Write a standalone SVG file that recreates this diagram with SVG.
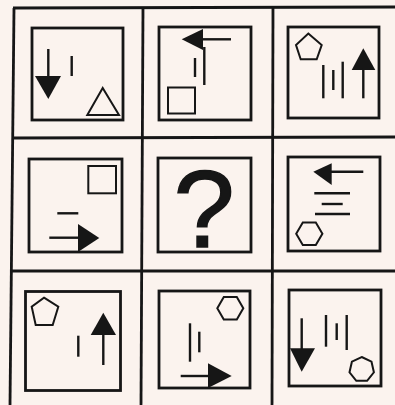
<svg xmlns="http://www.w3.org/2000/svg" width="395" height="405" viewBox="0 0 395 405">
<style>
.bg{fill:#fbf3ee}
.grid{stroke:#161616;stroke-width:2.8;fill:none}
.box{fill:none;stroke:#161616;stroke-width:2.8}
.ln{stroke:#161616;stroke-width:2.4;fill:none}
.ol{fill:none;stroke:#161616;stroke-width:2;stroke-linejoin:miter}
.hd{fill:#161616;stroke:none}
.q{font-family:"Liberation Sans",Arial,sans-serif;font-weight:normal;font-size:110px;fill:#161616;stroke:#161616;stroke-width:1.5}
</style>
<rect class="bg" x="0" y="0" width="395" height="405"/>
<g id="grid">
<line class="grid" x1="13" y1="8" x2="395" y2="7"/>
<line class="grid" x1="14" y1="8" x2="10" y2="405"/>
<line class="grid" x1="143" y1="8" x2="141" y2="405"/>
<line class="grid" x1="273" y1="7" x2="272" y2="405"/>
<line class="grid" x1="13" y1="138" x2="395" y2="137"/>
<line class="grid" x1="11" y1="271" x2="395" y2="271"/>
</g>
<g id="cell-1-1">
<rect class="box" x="32" y="28" width="91" height="92"/>
<line class="ln" x1="48.3" y1="49" x2="48.3" y2="78"/>
<polygon class="hd" points="35,76 61,76 48.3,99"/>
<line class="ln" x1="71.7" y1="56" x2="71.7" y2="76"/>
<polygon class="ol" points="102.7,88 87.3,115 119,115"/>
</g>
<g id="cell-1-2">
<rect class="box" x="159" y="27" width="92" height="93"/>
<polygon class="hd" points="181.7,39.3 203,29 203,50"/>
<line class="ln" x1="202" y1="39.3" x2="231" y2="39.3"/>
<line class="ln" x1="204.3" y1="47" x2="204.3" y2="85"/>
<line class="ln" x1="195" y1="58" x2="195" y2="77"/>
<rect class="ol" x="168" y="87.5" width="27" height="26"/>
</g>
<g id="cell-1-3">
<rect class="box" x="288" y="27" width="91" height="91"/>
<polygon class="ol" points="308.3,33.5 321.7,45 316.7,59.3 300.7,59.3 296,45"/>
<line class="ln" x1="323.3" y1="65" x2="323.3" y2="98.3"/>
<line class="ln" x1="333.3" y1="70" x2="333.3" y2="90"/>
<line class="ln" x1="342.7" y1="61.7" x2="342.7" y2="98.3"/>
<polygon class="hd" points="363.3,48.3 375.3,70 351.7,70"/>
<line class="ln" x1="363.3" y1="68" x2="363.3" y2="98.3"/>
</g>
<g id="cell-2-1">
<rect class="box" x="29" y="159" width="93" height="93"/>
<rect class="ol" x="88.3" y="166" width="27.7" height="27.3"/>
<line class="ln" x1="57.3" y1="213.3" x2="78.3" y2="213.3"/>
<line class="ln" x1="49.3" y1="237.7" x2="80" y2="237.7"/>
<polygon class="hd" points="78,224 99.3,238 78,252"/>
</g>
<g id="cell-2-2">
<rect class="box" x="158" y="158" width="93" height="94"/>
<text class="q" x="204" y="247" text-anchor="middle">?</text>
</g>
<g id="cell-2-3">
<rect class="box" x="288" y="157" width="92" height="94"/>
<polygon class="hd" points="313.3,171.7 331.7,163.3 331.7,185"/>
<line class="ln" x1="330" y1="171.7" x2="363.3" y2="171.7"/>
<line class="ln" x1="314.3" y1="193.3" x2="350" y2="193.3"/>
<line class="ln" x1="321.7" y1="204" x2="342.7" y2="204"/>
<line class="ln" x1="315" y1="214" x2="350" y2="214"/>
<polygon class="ol" points="296.2,233.7 302.8,222.5 315.8,222.5 322.4,233.7 315.8,244.9 302.8,244.9"/>
</g>
<g id="cell-3-1">
<rect class="box" x="25.5" y="291.5" width="95" height="99"/>
<polygon class="ol" points="44,297.7 58.3,306.7 52.7,325 35.7,325 31.7,306.7"/>
<line class="ln" x1="78.3" y1="335.7" x2="78.3" y2="356.7"/>
<polygon class="hd" points="103.3,312.7 116,335 90.7,335"/>
<line class="ln" x1="103.3" y1="333" x2="103.3" y2="365"/>
</g>
<g id="cell-3-2">
<rect class="box" x="159" y="291" width="91" height="97"/>
<polygon class="ol" points="217.3,308.3 223.8,297 236.8,297 243.3,308.3 236.8,319.6 223.8,319.6"/>
<line class="ln" x1="190" y1="323.3" x2="190" y2="361.7"/>
<line class="ln" x1="199.3" y1="331.7" x2="199.3" y2="352.3"/>
<line class="ln" x1="180.7" y1="376" x2="210" y2="376"/>
<polygon class="hd" points="208,363.3 231.7,376 208,388"/>
</g>
<g id="cell-3-3">
<rect class="box" x="289" y="290" width="92" height="96"/>
<line class="ln" x1="301.7" y1="318.3" x2="301.7" y2="350"/>
<polygon class="hd" points="290,348.3 315,348.3 301.7,371.7"/>
<line class="ln" x1="326" y1="315" x2="326" y2="346.7"/>
<line class="ln" x1="336.7" y1="323.3" x2="336.7" y2="340"/>
<line class="ln" x1="346.7" y1="315" x2="346.7" y2="350"/>
<polygon class="ol" points="361.7,357 371.5,361.7 373.9,372.3 367.1,380.8 356.3,380.8 349.5,372.3 351.9,361.7"/>
</g>
</svg>
